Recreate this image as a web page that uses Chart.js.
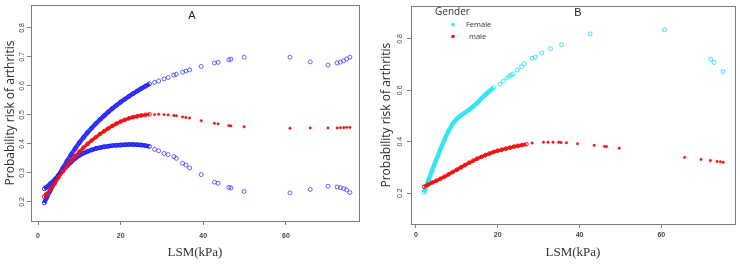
<!DOCTYPE html>
<html>
<head>
<meta charset="utf-8">
<script src="https://cdn.jsdelivr.net/npm/chart.js@4.4.1/dist/chart.umd.min.js"></script>
<style>
  html, body { margin: 0; padding: 0; background: #fff; }
  #wrap { display: flex; width: 740px; height: 264px; }
  canvas { display: block; }
</style>
</head>
<body>
<div id="wrap">
  <canvas id="chartA" width="370" height="264"></canvas>
  <canvas id="chartB" width="370" height="264"></canvas>
</div>
<script>
// axis ticks
const xTicks = [0, 20, 40, 60];
const yTicksA = [0.2, 0.3, 0.4, 0.5, 0.6, 0.7, 0.8];
const yTicksB = [0.2, 0.4, 0.6, 0.8];

// Panel A - dense part of the curves (many overlapping points)
const lsmDenseA = [1.5, 2, 3, 4, 5, 6, 7, 8, 9, 10, 11, 12, 13, 14, 15, 16, 17, 18, 19, 20, 21, 22, 23, 24, 25, 26, 27];
const upperDenseA = [0.196, 0.212, 0.240, 0.266, 0.291, 0.316, 0.340, 0.363, 0.384, 0.404, 0.422, 0.439, 0.455, 0.470, 0.484, 0.497, 0.510, 0.522, 0.533, 0.544, 0.554, 0.564, 0.573, 0.582, 0.591, 0.599, 0.607];
const fitDenseA = [0.218, 0.226, 0.245, 0.263, 0.285, 0.305, 0.324, 0.342, 0.358, 0.373, 0.387, 0.400, 0.412, 0.423, 0.434, 0.444, 0.453, 0.462, 0.470, 0.477, 0.483, 0.488, 0.492, 0.495, 0.498, 0.500, 0.502];
const lowerDenseA = [0.245, 0.250, 0.263, 0.276, 0.292, 0.308, 0.323, 0.337, 0.350, 0.360, 0.368, 0.374, 0.379, 0.384, 0.387, 0.390, 0.392, 0.394, 0.395, 0.396, 0.397, 0.398, 0.398, 0.397, 0.396, 0.394, 0.391];

// Panel A - sparse points
const lsmSparseA = [28.2, 29.2, 30.5, 31.5, 32.9, 33.5, 35.0, 35.8, 36.7, 39.5, 42.7, 43.6, 46.2, 46.7, 49.9, 61.0, 65.9, 70.2, 72.4, 73.2, 74.0, 74.7, 75.5];
const upperSparseA = [0.612, 0.617, 0.624, 0.629, 0.637, 0.640, 0.647, 0.651, 0.655, 0.667, 0.679, 0.681, 0.690, 0.692, 0.699, 0.699, 0.683, 0.672, 0.679, 0.682, 0.687, 0.693, 0.699];
const fitSparseA = [0.501, 0.502, 0.501, 0.500, 0.498, 0.497, 0.493, 0.491, 0.489, 0.480, 0.471, 0.469, 0.463, 0.462, 0.459, 0.454, 0.455, 0.455, 0.455, 0.456, 0.456, 0.457, 0.457];
const lowerSparseA = [0.381, 0.376, 0.367, 0.363, 0.356, 0.350, 0.333, 0.327, 0.317, 0.294, 0.268, 0.264, 0.250, 0.248, 0.236, 0.231, 0.243, 0.254, 0.251, 0.249, 0.246, 0.241, 0.232];

// Panel B - by gender
const genderLabels = ['Female', 'male'];
const lsmDenseFemale = [2, 3, 4, 5, 6, 7, 8, 9, 10, 11, 12, 13, 14, 15, 16, 17, 18, 19];
const femaleDense = [0.202, 0.246, 0.290, 0.330, 0.370, 0.408, 0.442, 0.470, 0.489, 0.502, 0.513, 0.524, 0.537, 0.551, 0.567, 0.583, 0.597, 0.610];
const lsmSparseFemale = [20.6, 21.4, 22.3, 22.8, 23.3, 23.8, 24.8, 25.8, 26.5, 28.4, 29.2, 30.8, 32.9, 35.6, 42.6, 60.8, 72.1, 72.9, 75.1];
const femaleSparse = [0.624, 0.635, 0.648, 0.654, 0.659, 0.664, 0.679, 0.692, 0.703, 0.724, 0.729, 0.745, 0.762, 0.777, 0.819, 0.835, 0.720, 0.708, 0.673];
const lsmDenseMale = [2, 3, 4, 5, 6, 7, 8, 9, 10, 11, 12, 13, 14, 15, 16, 17, 18, 19, 20, 21, 22, 23, 24, 25, 26, 27];
const maleDense = [0.225, 0.233, 0.241, 0.248, 0.256, 0.264, 0.273, 0.282, 0.291, 0.300, 0.309, 0.318, 0.326, 0.334, 0.341, 0.348, 0.354, 0.360, 0.365, 0.369, 0.373, 0.377, 0.381, 0.384, 0.387, 0.390];
const lsmSparseMale = [28.4, 31.2, 32.3, 33.5, 34.9, 35.5, 36.8, 39.5, 43.6, 46.1, 46.6, 49.7, 65.7, 69.7, 72.0, 73.6, 74.4, 75.1];
const maleSparse = [0.395, 0.398, 0.398, 0.398, 0.398, 0.397, 0.396, 0.392, 0.386, 0.382, 0.381, 0.375, 0.339, 0.331, 0.327, 0.323, 0.322, 0.320];

const BLUE = 'rgba(25,25,255,0.85)';
const BLUE_LIGHT = 'rgba(40,40,255,0.7)';
const RED = '#f41010';
const CYAN = '#35e6f2';

Chart.defaults.font.family = 'Liberation Sans';
Chart.defaults.animation = false;

function pts(xs, ys) {
  return xs.map((x, i) => ({ x: x, y: ys[i] }));
}

// dense curve: thick band of overlapping points
function denseSet(xs, ys, color, width, label) {
  return {
    label: label, data: pts(xs, ys), showLine: true,
    borderColor: color, borderWidth: width,
    pointRadius: 1.9, pointBorderWidth: 1, pointBorderColor: color,
    pointBackgroundColor: 'rgba(0,0,0,0)'
  };
}
function circleSet(xs, ys, color) {
  return {
    data: pts(xs, ys), showLine: false,
    pointRadius: 2, pointBorderWidth: 1, pointBorderColor: color,
    pointBackgroundColor: 'rgba(0,0,0,0)'
  };
}
function dotSet(xs, ys, color) {
  return {
    data: pts(xs, ys), showLine: false,
    pointRadius: 1.2, pointBorderWidth: 0.5, pointBorderColor: color,
    pointBackgroundColor: color
  };
}

// box around the plot area plus the panel letter and optional legend
const framePlugin = {
  id: 'frame',
  afterDraw(chart, args, opts) {
    const { ctx, chartArea: a } = chart;
    ctx.save();
    ctx.strokeStyle = '#7b7b7b';
    ctx.lineWidth = 1;
    ctx.strokeRect(Math.round(a.left) + 0.5, Math.round(a.top) + 0.5,
      Math.round(a.right - a.left), Math.round(a.bottom - a.top));
    ctx.fillStyle = '#222';
    ctx.font = '11px "Liberation Sans"';
    ctx.textAlign = 'center';
    ctx.textBaseline = 'middle';
    ctx.fillText(opts.letter, opts.letterX, opts.letterY);
    if (opts.legend) {
      const lg = opts.legend;
      ctx.textAlign = 'left';
      ctx.fillStyle = '#333';
      ctx.font = '10px "Open Sans"';
      ctx.fillText(lg.title, lg.x, lg.y);
      ctx.font = '7.5px "Open Sans"';
      lg.labels.forEach((t, i) => {
        const y = lg.y + 12.5 + i * 12;
        ctx.fillStyle = lg.colors[i];
        ctx.beginPath();
        ctx.arc(lg.x + 18, y, 1.8, 0, Math.PI * 2);
        ctx.fill();
        ctx.fillStyle = '#333';
        ctx.fillText(t, lg.x + 31 + i * 3, y);
      });
    }
    ctx.restore();
  }
};

function makeScales(o) {
  return {
    x: {
      type: 'linear', min: o.xMin, max: o.xMax,
      afterBuildTicks: s => { s.ticks = xTicks.map(v => ({ value: v })); },
      afterFit: s => { s.height = o.xHeight; },
      grid: { drawOnChartArea: false, tickLength: 4, color: '#808080' },
      border: { display: false },
      ticks: { maxRotation: 0, padding: o.xPad, color: '#3f4a3f', font: { size: 7, weight: 'bold' } },
      title: { display: true, text: 'LSM(kPa)', color: '#333',
        font: { family: 'Liberation Serif', size: 13 }, padding: { top: 0, bottom: 4 } }
    },
    y: {
      min: o.yMin, max: o.yMax,
      afterBuildTicks: s => { s.ticks = o.yTicks.map(v => ({ value: v })); },
      afterFit: s => { s.width = o.yWidth; },
      grid: { drawOnChartArea: false, tickLength: 4, color: '#808080' },
      border: { display: false },
      ticks: { minRotation: 90, maxRotation: 90, crossAlign: 'center', padding: o.yPad,
        color: '#3f4a3f', font: { size: 7 }, callback: v => v.toFixed(1) },
      title: { display: true, text: 'Probability risk of arthritis', color: '#2f2f2f',
        font: { family: 'Open Sans', size: 12 }, padding: { top: o.yTitlePad, bottom: 0 } }
    }
  };
}

new Chart(document.getElementById('chartA'), {
  type: 'scatter',
  data: {
    datasets: [
      denseSet(lsmDenseA, fitDenseA, RED, 3),
      denseSet(lsmDenseA, upperDenseA, BLUE, 4.5),
      denseSet(lsmDenseA, lowerDenseA, BLUE, 4.5),
      circleSet(lsmSparseA, upperSparseA, BLUE_LIGHT),
      dotSet(lsmSparseA, fitSparseA, RED),
      circleSet(lsmSparseA, lowerSparseA, BLUE_LIGHT)
    ]
  },
  options: {
    responsive: false,
    layout: { padding: { top: 4, right: 11, left: 0, bottom: 0 } },
    scales: makeScales({ xMin: -1.7, xMax: 77.7, xHeight: 43, xPad: 7,
      yMin: 0.134, yMax: 0.879, yTicks: yTicksA, yWidth: 31, yPad: 0, yTitlePad: 3 }),
    plugins: {
      legend: { display: false }, tooltip: { enabled: false },
      frame: { letter: 'A', letterX: 192, letterY: 16 }
    }
  },
  plugins: [framePlugin]
});

new Chart(document.getElementById('chartB'), {
  type: 'scatter',
  data: {
    datasets: [
      denseSet(lsmDenseMale, maleDense, RED, 3, genderLabels[1]),
      dotSet(lsmSparseMale, maleSparse, RED),
      denseSet(lsmDenseFemale, femaleDense, CYAN, 4.5, genderLabels[0]),
      circleSet(lsmSparseFemale, femaleSparse, CYAN)
    ]
  },
  options: {
    responsive: false,
    layout: { padding: { top: 4, right: 3, left: 0, bottom: 0 } },
    scales: makeScales({ xMin: -1.2, xMax: 78, xHeight: 40, xPad: 3,
      yMin: 0.08, yMax: 0.927, yTicks: yTicksB, yWidth: 41, yPad: 2, yTitlePad: 9 }),
    plugins: {
      legend: { display: false }, tooltip: { enabled: false },
      frame: { letter: 'B', letterX: 208, letterY: 13,
        legend: { title: 'Gender', x: 65, y: 12, labels: genderLabels, colors: [CYAN, RED] } }
    }
  },
  plugins: [framePlugin]
});
</script>
</body>
</html>
